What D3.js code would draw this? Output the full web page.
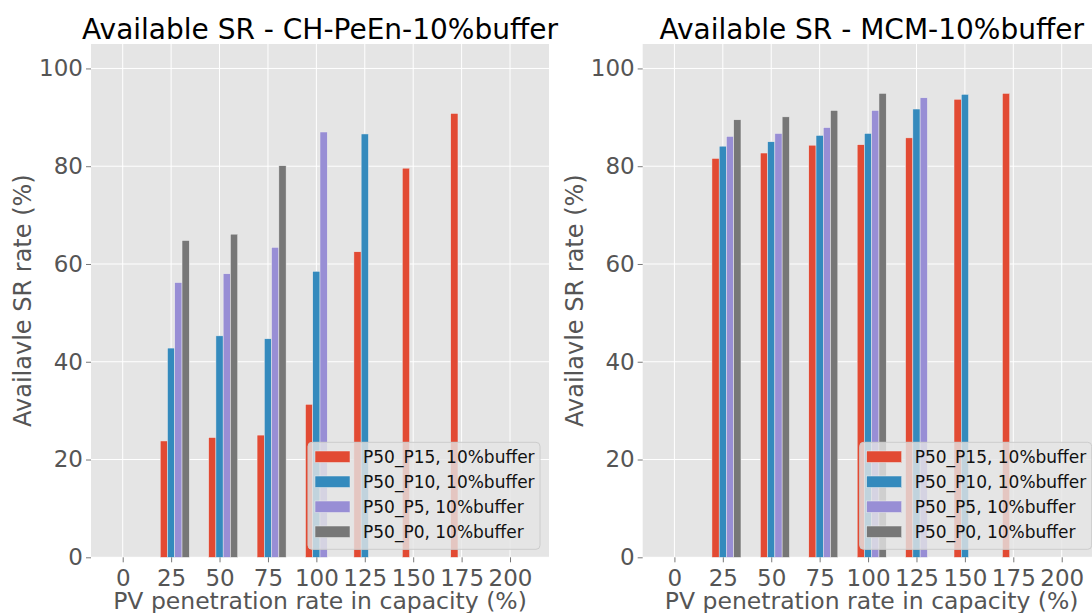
<!DOCTYPE html>
<html>
<head>
<meta charset="utf-8">
<script src="https://cdn.jsdelivr.net/npm/d3@7"></script>
<style>
  body { margin: 0; background: #fff; }
  svg { display: block; font-family: "DejaVu Sans", sans-serif; }
</style>
</head>
<body>
<svg id="chart" width="1092" height="613"></svg>
<script>
// PV penetration rate (%) on the x axis
const penetration = [0, 25, 50, 75, 100, 125, 150, 175, 200];
const seriesNames = ["P50_P15, 10%buffer", "P50_P10, 10%buffer", "P50_P5, 10%buffer", "P50_P0, 10%buffer"];
const colors = ["#E24A33", "#348ABD", "#988ED5", "#777777"];
const yTicks = [0, 20, 40, 60, 80, 100];

// CH-PeEn panel (null = no bar)
const chP15 = [null, 23.8, 24.5, 25.0, 31.3, 62.5, 79.6, 90.8, null];
const chP10 = [null, 42.8, 45.3, 44.7, 58.5, 86.6, null, null, null];
const chP5  = [null, 56.2, 58.0, 63.4, 87.0, null, null, null, null];
const chP0  = [null, 64.8, 66.1, 80.1, null, null, null, null, null];

// MCM panel
const mcmP15 = [null, 81.6, 82.7, 84.3, 84.4, 85.8, 93.7, 94.9, null];
const mcmP10 = [null, 84.1, 85.0, 86.3, 86.7, 91.7, 94.7, null, null];
const mcmP5  = [null, 86.1, 86.7, 87.9, 91.4, 94.0, null, null, null];
const mcmP0  = [null, 89.5, 90.1, 91.4, 94.9, null, null, null, null];

const barWidth = 3.75;
const offsets = [-1, 0, 1, 2];

const svg = d3.select("#chart");

const panels = [
    { title: "Available SR - CH-PeEn-10%buffer", left: 91, series: [chP15, chP10, chP5, chP0] },
    { title: "Available SR - MCM-10%buffer", left: 642.7, series: [mcmP15, mcmP10, mcmP5, mcmP0] }
];

const plotTop = 44, plotBottom = 557.3, plotWidth = 458;

panels.forEach(p => {
    const g = svg.append("g").attr("transform", "translate(" + p.left + "," + plotTop + ")");
    const h = plotBottom - plotTop;

    const x = d3.scaleLinear().domain([-16.375, 220.125]).range([0, plotWidth]);
    const y = d3.scaleLinear().domain([0, 105]).range([h, 0]);

    g.append("rect").attr("width", plotWidth).attr("height", h).attr("fill", "#E5E5E5");

    // grid
    g.selectAll(".gx").data(penetration).enter().append("line")
        .attr("x1", d => x(d)).attr("x2", d => x(d))
        .attr("y1", 0).attr("y2", h)
        .attr("stroke", "#fff").attr("stroke-width", 1);
    g.selectAll(".gy").data(yTicks).enter().append("line")
        .attr("x1", 0).attr("x2", plotWidth)
        .attr("y1", d => y(d)).attr("y2", d => y(d))
        .attr("stroke", "#fff").attr("stroke-width", 1);

    // bars
    p.series.forEach((vals, si) => {
        const data = penetration.map((v, i) => ({ x: v, v: vals[i] })).filter(d => d.v != null);
        g.selectAll(".bar" + si).data(data).enter().append("rect")
            .attr("x", d => x(d.x + offsets[si] * barWidth - barWidth / 2))
            .attr("width", x(barWidth) - x(0))
            .attr("y", d => y(d.v))
            .attr("height", d => h - y(d.v))
            .attr("fill", colors[si])
            .attr("stroke", "#EEEEEE")
            .attr("stroke-width", 0.5);
    });

    // axes
    const xAxis = g.append("g").attr("transform", "translate(0," + h + ")")
        .call(d3.axisBottom(x).tickValues(penetration).tickSize(5).tickPadding(7));
    const yAxis = g.append("g")
        .call(d3.axisLeft(y).tickValues(yTicks).tickSize(5).tickPadding(3));
    [xAxis, yAxis].forEach(a => {
        a.select(".domain").remove();
        a.selectAll(".tick line").attr("stroke", "#555").attr("stroke-width", 0.8);
        a.selectAll(".tick text").attr("fill", "#555").style("font-size", "23px")
            .style("font-family", "DejaVu Sans");
    });

    // title
    g.append("text").attr("x", plotWidth / 2).attr("y", -5)
        .attr("text-anchor", "middle").attr("fill", "#000")
        .style("font-size", "28px").text(p.title);

    // axis labels
    g.append("text").attr("x", plotWidth / 2).attr("y", h + 52)
        .attr("text-anchor", "middle").attr("fill", "#555")
        .style("font-size", "23.5px").text("PV penetration rate in capacity (%)");
    g.append("text")
        .attr("transform", "translate(" + (-60) + "," + (h / 2) + ") rotate(-90)")
        .attr("text-anchor", "middle").attr("fill", "#555")
        .style("font-size", "24px").text("Availavle SR rate (%)");

    // legend
    const lg = g.append("g").attr("transform", "translate(" + (plotWidth - 241) + "," + (h - 115) + ")");
    lg.append("rect").attr("width", 232).attr("height", 107).attr("rx", 4)
        .attr("fill", "#E5E5E5").attr("fill-opacity", 0.8)
        .attr("stroke", "#CCCCCC").attr("stroke-width", 1);
    seriesNames.forEach((name, i) => {
        const row = lg.append("g").attr("transform", "translate(0," + (8.7 + i * 25) + ")");
        row.append("rect").attr("x", 7).attr("y", 0).attr("width", 35).attr("height", 11.5)
            .attr("fill", colors[i]).attr("stroke", "#EEEEEE").attr("stroke-width", 0.5);
        row.append("text").attr("x", 55).attr("y", 12).attr("fill", "#111")
            .style("font-size", "17px").text(name);
    });
});
</script>
</body>
</html>
